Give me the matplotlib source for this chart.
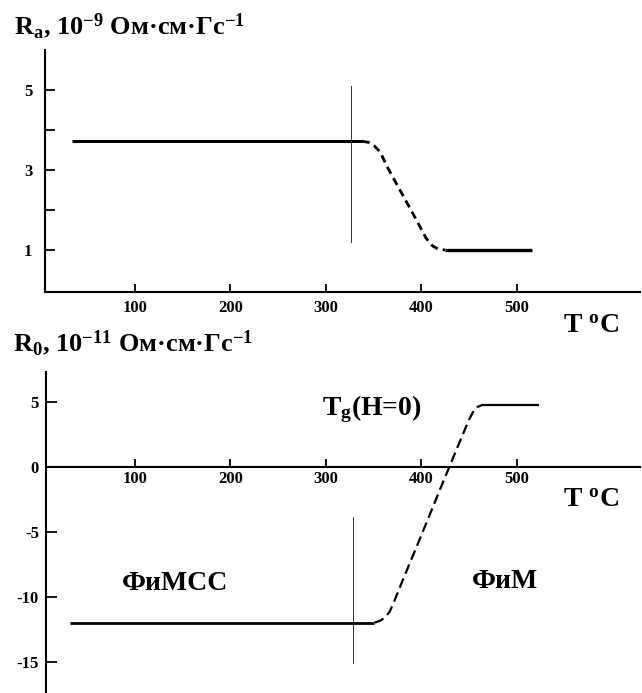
import matplotlib
matplotlib.use("Agg")
import matplotlib.pyplot as plt

plt.rcParams['font.family'] = ['Liberation Serif', 'DejaVu Serif']
plt.rcParams['font.weight'] = 'bold'
plt.rcParams['mathtext.fontset'] = 'custom'
plt.rcParams['mathtext.rm'] = 'Liberation Serif:bold'
plt.rcParams['mathtext.it'] = 'Liberation Serif:bold'
plt.rcParams['mathtext.bf'] = 'Liberation Serif:bold'

# ---- data: top panel (R_a) ----
ra_solid1_T = [34, 338]
ra_solid1_v = [3.72, 3.72]
ra_dash_T = [338, 345, 351, 357, 365, 380, 395, 405, 412, 418, 425]
ra_dash_v = [3.72, 3.69, 3.60, 3.45, 3.05, 2.40, 1.75, 1.30, 1.10, 1.02, 1.00]
ra_solid2_T = [425, 516]
ra_solid2_v = [1.00, 1.00]
ra_vline_T = 326
ra_vline_range = [1.2, 5.1]

# ---- data: bottom panel (R_0) ----
r0_solid1_T = [32, 351]
r0_solid1_v = [-12.0, -12.0]
r0_dash_T = [351, 357, 362, 367, 372, 380, 400, 420, 440, 450, 455, 459, 463]
r0_dash_v = [-12.0, -11.85, -11.6, -11.15, -10.3, -8.85, -5.3, -1.7, 1.85, 3.6, 4.3, 4.6, 4.72]
r0_solid2_T = [463, 524]
r0_solid2_v = [4.75, 4.75]
r0_vline_T = 328
r0_vline_range = [-15.1, -3.85]

x_ticks = [100, 200, 300, 400, 500]
ra_yticks = [1, 2, 3, 4, 5]
ra_ylabels = ['1', '', '3', '', '5']
r0_yticks = [-15, -10, -5, 0, 5]
r0_ylabels = ['-15', '-10', '-5', '0', '5']

W, H = 642, 693
fig = plt.figure(figsize=(W / 100, H / 100), dpi=100)

def px_axes(l, r, t, b):
    return fig.add_axes([l / W, 1 - b / H, (r - l) / W, (b - t) / H])

# pixel scale: T -> x = 39.6 + 0.954*T
def T_at(px):
    return (px - 39.6) / 0.954

# ---------------- top panel ----------------
ax1 = px_axes(45, 640, 50, 292)
ax1.set_xlim(T_at(45), T_at(640))
ax1.set_ylim(-0.05, 6.0)
for s in ['top', 'right']:
    ax1.spines[s].set_visible(False)
for s in ['left', 'bottom']:
    ax1.spines[s].set_linewidth(1.5)
ax1.plot(ra_solid1_T, ra_solid1_v, color='black', lw=2.2, solid_capstyle='butt')
ax1.plot(ra_dash_T, ra_dash_v, color='black', lw=2.0, dashes=(2.8, 1.8))
ax1.plot(ra_solid2_T, ra_solid2_v, color='black', lw=2.4, solid_capstyle='butt')
ax1.plot([ra_vline_T, ra_vline_T], ra_vline_range, color='#333333', lw=0.7)
ax1.set_xticks(x_ticks)
ax1.set_xticklabels([str(t) for t in x_ticks])
ax1.set_yticks(ra_yticks)
ax1.set_yticklabels(ra_ylabels)
ax1.tick_params(axis='x', direction='in', length=6, width=1.3, pad=6, labelsize=12)
ax1.tick_params(axis='y', direction='in', length=7, width=1.3, pad=9, labelsize=12)
ax1.text(T_at(563), -1.07, 'T $^{\\mathrm{o}}$C', fontsize=20, ha='left', va='baseline',
         clip_on=False)

# ---------------- bottom panel ----------------
ax2 = px_axes(46, 640, 371.7, 693)
ax2.set_xlim(T_at(46), T_at(640))
ax2.set_ylim(-17.41, 7.31)
for s in ['top', 'right']:
    ax2.spines[s].set_visible(False)
ax2.spines['bottom'].set_position(('data', 0))
for s in ['left', 'bottom']:
    ax2.spines[s].set_linewidth(1.5)
ax2.plot(r0_solid1_T, r0_solid1_v, color='black', lw=2.0, solid_capstyle='butt')
ax2.plot(r0_dash_T, r0_dash_v, color='black', lw=1.6, dashes=(4.5, 2.3))
ax2.plot(r0_solid2_T, r0_solid2_v, color='black', lw=1.6, solid_capstyle='butt')
ax2.plot([r0_vline_T, r0_vline_T], r0_vline_range, color='#333333', lw=0.7)
ax2.set_xticks(x_ticks)
ax2.set_xticklabels([str(t) for t in x_ticks])
ax2.set_yticks(r0_yticks)
ax2.set_yticklabels(r0_ylabels)
ax2.tick_params(axis='x', direction='in', length=6, width=1.3, pad=3, labelsize=12)
ax2.tick_params(axis='y', direction='in', length=8, width=1.3, pad=5, labelsize=12)
ax2.text(T_at(563), -3.08, 'T $^{\\mathrm{o}}$C', fontsize=20, ha='left', va='baseline',
         clip_on=False)
ax2.text(T_at(322), 3.98, 'T$_{\\mathrm{g}}$(H=0)', fontsize=20, ha='left', va='baseline')
ax2.text(T_at(122), -9.5, 'ФиМСС', fontsize=20, ha='left', va='baseline')
ax2.text(T_at(472), -9.3, 'ФиМ', fontsize=20, ha='left', va='baseline')

# ---------------- titles ----------------
fig.text(14 / W, 1 - 34 / H, 'R$_{\\mathrm{a}}$, 10$^{-9}$ Ом·см·Гс$^{-1}$',
         fontsize=19, ha='left', va='baseline')
fig.text(13 / W, 1 - 351 / H, 'R$_{\\mathrm{0}}$, 10$^{-11}$ Ом·см·Гс$^{-1}$',
         fontsize=19, ha='left', va='baseline')

fig.savefig('out.png', dpi=100)
